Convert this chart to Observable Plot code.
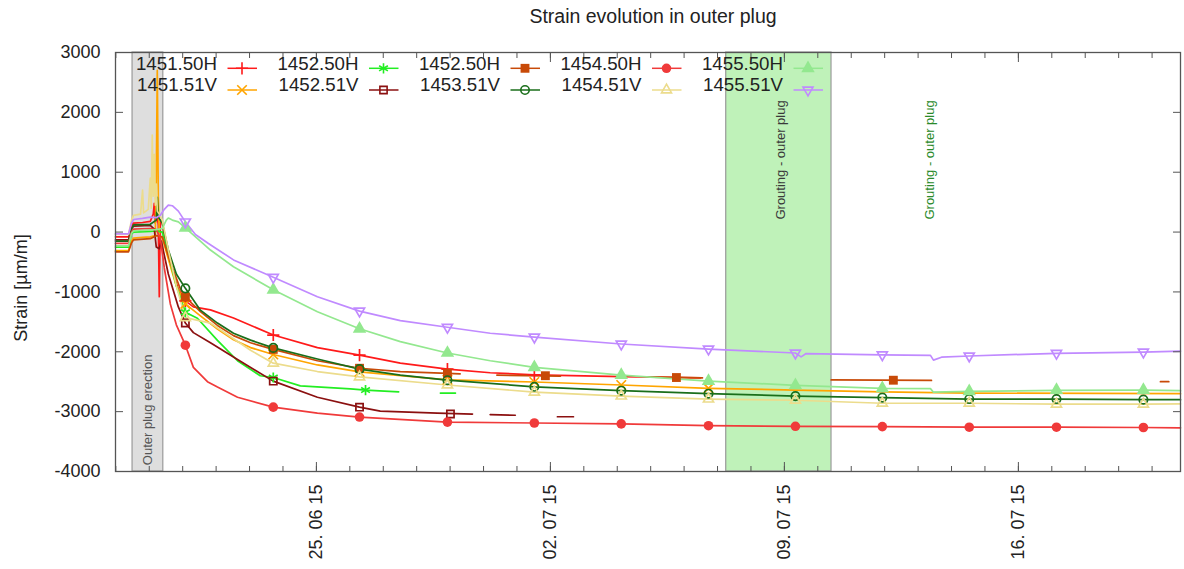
<!DOCTYPE html>
<html><head><meta charset="utf-8">
<script src="https://cdn.jsdelivr.net/npm/d3@7"></script>
<script src="https://cdn.jsdelivr.net/npm/@observablehq/plot@0.6"></script>
<style>
body{margin:0;background:#fff;font-family:"Liberation Sans",Arial,sans-serif;}
#wrap{position:relative;width:1184px;height:569px;overflow:hidden;background:#fff;}
#chart{position:absolute;left:0;top:0;}
#overlay{position:absolute;left:0;top:0;pointer-events:none;z-index:2;}
</style></head><body>
<div id="wrap"><div id="chart"></div><svg id="overlay" width="1184" height="569"></svg></div>
<script>
// ---- data (x = days after 25.06.2015, y = strain µm/m) ----
const line1451_50H = [[-6.01,-80],[-5.62,-80],[-5.53,100],[-5.47,150],[-5.2,160],[-4.97,180],[-4.88,300],[-4.85,480],[-4.82,150],[-4.76,250],[-4.73,120],[-4.70,-1080],[-4.67,200],[-4.61,150],[-4.49,-250],[-4.31,-650],[-4.13,-950],[-3.92,-1150],[-3.68,-1250],[-3.17,-1300],[-2.48,-1435],[-1.29,-1720],[0.03,-1930],[1.29,-2055],[2.51,-2190],[3.92,-2290],[5.2,-2350],[6.52,-2385],[9.12,-2415],[11.49,-2435]];
const marks1451_50H = [[-3.92,-1150],[-1.29,-1720],[1.29,-2055],[3.92,-2290],[6.52,-2385]];

const line1451_51V = [[-6.01,-310],[-5.62,-310],[-5.53,-150],[-5.47,-100],[-5.2,-90],[-4.97,-80],[-4.82,-60],[-4.79,900],[-4.76,2700],[-4.73,600],[-4.70,-60],[-4.61,-100],[-4.43,-450],[-4.19,-900],[-3.92,-1200],[-3.47,-1400],[-2.96,-1620],[-2.48,-1800],[-1.97,-1930],[-1.29,-2045],[0.03,-2220],[1.29,-2335],[3.92,-2470],[6.52,-2505],[9.12,-2555],[11.73,-2610],[14.33,-2640],[16.93,-2670],[19.53,-2690],[25.85,-2700]];
const marks1451_51V = [[-3.92,-1200],[-1.29,-2045],[1.29,-2335],[3.92,-2470],[6.52,-2505],[9.12,-2555],[11.73,-2610]];

const line1452_50H = [[-6.01,-250],[-5.62,-250],[-5.53,-30],[-5.47,0],[-4.97,10],[-4.79,20],[-4.61,0],[-4.43,-350],[-4.19,-900],[-3.92,-1340],[-3.56,-1440],[-2.96,-1810],[-2.36,-2150],[-1.68,-2400],[-1.29,-2430],[-0.48,-2570],[1.02,-2620],[1.47,-2640],[2.46,-2670],[2.47,null],[3.71,-2690],[4.16,-2690]];
const marks1452_50H = [[-3.92,-1340],[-1.29,-2430],[1.47,-2640]];

const line1452_51V = [[-6.01,-130],[-5.62,-130],[-5.53,60],[-5.47,100],[-4.97,110],[-4.85,50],[-4.79,-250],[-4.70,-280],[-4.64,-150],[-4.43,-700],[-4.13,-1250],[-3.92,-1520],[-3.68,-1680],[-3.17,-1850],[-2.36,-2130],[-1.29,-2490],[0.03,-2760],[1.29,-2925],[1.91,-2990],[3.62,-3025],[4.67,-3040],[4.68,null],[5.2,-3050],[5.95,-3060],[5.96,null],[7.21,-3085],[7.69,-3085]];
const marks1452_51V = [[-3.92,-1520],[-1.29,-2490],[1.29,-2925],[4.01,-3040]];

const line1452_50Hb = [[-6.01,-330],[-5.62,-330],[-5.53,-180],[-5.47,-130],[-4.97,-110],[-4.79,-60],[-4.61,-80],[-4.37,-500],[-4.07,-950],[-3.92,-1085],[-3.47,-1330],[-2.96,-1560],[-2.48,-1730],[-1.97,-1850],[-1.29,-1960],[0.03,-2150],[1.29,-2275],[2.51,-2330],[3.92,-2360],[4.3,-2370],[4.31,null],[5.4,-2390],[7.3,-2405],[7.31,null],[9.9,-2420],[11.55,-2435],[11.56,null],[15.4,-2470],[18.4,-2478],[18.41,null],[25.25,-2500],[25.5,-2500]];
const marks1452_50Hb = [[-3.92,-1085],[-1.29,-1960],[1.29,-2275],[3.92,-2360],[6.85,-2400],[10.77,-2430],[17.26,-2475]];

const line1453_51V = [[-6.01,-150],[-5.62,-150],[-5.53,50],[-5.47,120],[-4.97,130],[-4.79,200],[-4.76,580],[-4.73,250],[-4.61,150],[-4.43,-300],[-4.19,-700],[-3.92,-940],[-3.47,-1305],[-2.96,-1520],[-2.48,-1690],[-1.97,-1805],[-1.29,-1935],[0.03,-2120],[1.29,-2290],[2.51,-2390],[3.92,-2475],[6.52,-2585],[9.12,-2650],[11.73,-2700],[14.33,-2740],[16.93,-2765],[19.53,-2790],[22.14,-2790],[24.74,-2800],[25.85,-2800]];
const marks1453_51V = [[-3.92,-940],[-1.29,-1935],[1.29,-2290],[3.92,-2475],[6.52,-2585],[9.12,-2650],[11.73,-2700],[14.33,-2740],[16.93,-2765],[19.53,-2790],[22.14,-2790],[24.74,-2800]];

const line1454_50H = [[-6.01,-190],[-5.62,-190],[-5.53,0],[-5.47,50],[-4.97,60],[-4.79,40],[-4.67,-100],[-4.55,-600],[-4.37,-1200],[-4.19,-1550],[-3.92,-1890],[-3.68,-2260],[-3.26,-2500],[-2.96,-2590],[-2.36,-2760],[-1.29,-2925],[0.03,-3025],[1.29,-3090],[3.92,-3175],[6.52,-3190],[9.12,-3205],[11.73,-3235],[14.33,-3245],[16.93,-3250],[19.53,-3260],[22.14,-3260],[24.74,-3265],[25.85,-3270]];
const marks1454_50H = [[-3.92,-1890],[-1.29,-2925],[1.29,-3090],[3.92,-3175],[6.52,-3190],[9.12,-3205],[11.73,-3235],[14.33,-3245],[16.93,-3250],[19.53,-3260],[22.14,-3260],[24.74,-3265]];

const line1454_51V = [[-6.01,-40],[-5.62,-40],[-5.53,200],[-5.47,280],[-5.26,300],[-5.2,700],[-5.17,320],[-5.03,380],[-4.97,900],[-4.94,400],[-4.91,1620],[-4.88,600],[-4.85,1300],[-4.82,450],[-4.79,800],[-4.76,350],[-4.70,300],[-4.61,200],[-4.43,-300],[-4.19,-900],[-3.92,-1430],[-3.17,-1520],[-1.97,-1975],[-1.29,-2190],[0.03,-2330],[1.29,-2420],[3.92,-2555],[6.52,-2675],[9.12,-2740],[11.73,-2790],[14.33,-2810],[16.93,-2860],[19.53,-2860],[22.14,-2875],[24.74,-2875],[25.85,-2870]];
const marks1454_51V = [[-3.92,-1430],[-1.29,-2190],[1.29,-2420],[3.92,-2555],[6.52,-2675],[9.12,-2740],[11.73,-2790],[14.33,-2810],[16.93,-2860],[19.53,-2860],[22.14,-2875],[24.74,-2875]];

const line1455_50H = [[-6.01,-230],[-5.62,-230],[-5.53,-20],[-5.47,20],[-5.2,30],[-4.79,40],[-4.61,60],[-4.49,200],[-4.43,235],[-4.31,200],[-4.13,170],[-3.92,70],[-3.17,-300],[-2.48,-580],[-1.29,-965],[0.03,-1330],[1.29,-1615],[2.51,-1830],[3.92,-2020],[5.2,-2150],[6.52,-2260],[9.12,-2390],[11.73,-2490],[14.33,-2560],[16.93,-2610],[18.37,-2615],[18.46,-2675],[19.53,-2660],[22.14,-2645],[24.74,-2640],[25.85,-2650]];
const marks1455_50H = [[-3.92,70],[-1.29,-965],[1.29,-1615],[3.92,-2020],[6.52,-2260],[9.12,-2390],[11.73,-2490],[14.33,-2560],[16.93,-2610],[19.53,-2660],[22.14,-2640],[24.74,-2640]];

const line1455_51V = [[-6.01,-30],[-5.62,-30],[-5.53,150],[-5.47,210],[-5.2,230],[-4.97,250],[-4.79,240],[-4.67,280],[-4.55,380],[-4.43,450],[-4.31,440],[-4.13,350],[-3.92,170],[-3.62,-40],[-3.23,-190],[-2.48,-465],[-1.29,-755],[0.03,-1080],[1.29,-1320],[2.51,-1480],[3.92,-1590],[5.2,-1690],[6.52,-1755],[9.12,-1870],[11.73,-1955],[14.33,-2020],[14.5,-2085],[14.65,-2030],[16.93,-2050],[18.37,-2060],[18.46,-2140],[18.7,-2090],[19.53,-2070],[22.14,-2025],[24.74,-2005],[25.85,-1990]];
const marks1455_51V = [[-3.92,170],[-1.29,-755],[1.29,-1320],[3.92,-1590],[6.52,-1755],[9.12,-1870],[11.73,-1955],[14.33,-2020],[16.93,-2050],[19.53,-2070],[22.14,-2025],[24.74,-2005]];

const labels = ["1451.50H","1451.51V","1452.50H","1452.51V","1452.50H","1453.51V","1454.50H","1454.51V","1455.50H","1455.51V"];
const yTicks = [-4000,-3000,-2000,-1000,0,1000,2000,3000];
const xTickDays = [0,7,14,21];
const xTickLabels = ["25. 06 15","02. 07 15","09. 07 15","16. 07 15"];
const bands = [{from:-5.50, to:-4.58, kind:"erection"}, {from:12.26, to:15.41, kind:"grouting"}];
const notes = [
  {d:-5.05, v:-2970, text:"Outer plug erection", kind:"erection"},
  {d:13.89, v:1205, text:"Grouting - outer plug", kind:"grouting"},
  {d:18.35, v:1205, text:"Grouting - outer plug", kind:"green"}
];

// ---- styling / assembly ----
const start = Date.UTC(2015, 5, 25);
const toDate = d => new Date(start + d * 864e5);
const lines = [line1451_50H,line1451_51V,line1452_50H,line1452_51V,line1452_50Hb,line1453_51V,line1454_50H,line1454_51V,line1455_50H,line1455_51V];
const marksets = [marks1451_50H,marks1451_51V,marks1452_50H,marks1452_51V,marks1452_50Hb,marks1453_51V,marks1454_50H,marks1454_51V,marks1455_50H,marks1455_51V];
const styles = [
  {color:"#ff1a1a", symbol:"plus", fill:false, r:4, rotate:0},
  {color:"#ffa500", symbol:"times", fill:false, r:4.4, rotate:0},
  {color:"#22ee22", symbol:"asterisk", fill:false, r:4.8, rotate:0},
  {color:"#8b1010", symbol:"square2", fill:false, r:4.6, rotate:0},
  {color:"#c84a08", symbol:"square", fill:true, r:5, rotate:0},
  {color:"#1a6e1a", symbol:"circle", fill:false, r:4.2, rotate:0},
  {color:"#f03a3a", symbol:"circle", fill:true, r:4.8, rotate:0},
  {color:"#ecdc8c", symbol:"triangle2", fill:false, r:4.8, rotate:0},
  {color:"#93e88f", symbol:"triangle", fill:true, r:5, rotate:0},
  {color:"#c08aff", symbol:"triangle2", fill:false, r:4.8, rotate:180}
];

const marks = [];
marks.push(Plot.rect(bands, {x1: b => toDate(b.from), x2: b => toDate(b.to),
  fill: b => b.kind === "erection" ? "#dedede" : "#bff2b9", stroke: "#9a9a9a", strokeWidth: 1.2}));
marks.push(Plot.text(notes, {x: n => toDate(n.d), y: "v", text: "text", rotate: -90, fontSize: 13,
  fill: n => n.kind === "erection" ? "#555" : n.kind === "grouting" ? "#3a3a3a" : "#2a8a2a"}));
lines.forEach((ln, i) => {
  const st = styles[i];
  marks.push(Plot.line(ln.map(([d, v]) => ({date: toDate(d), v})), {x: "date", y: "v", stroke: st.color, strokeWidth: 1.7}));
});
marksets.forEach((ms, i) => {
  const st = styles[i];
  marks.push(Plot.dot(ms.map(([d, v]) => ({date: toDate(d), v})), {x: "date", y: "v", symbol: st.symbol, r: st.r,
    rotate: st.rotate, fill: st.fill ? st.color : "none", stroke: st.fill ? "none" : st.color, strokeWidth: st.fill ? 0 : 1.7}));
});
const dailyTicks = d3.range(-6, 26).map(toDate);
const weekTicks = xTickDays.map(toDate);
const fmtX = d => xTickLabels[weekTicks.findIndex(t => +t === +d)] ?? "";
marks.push(Plot.frame({stroke: "#555", strokeWidth: 1.3}));
marks.push(Plot.axisX({anchor: "bottom", ticks: dailyTicks, tickSize: -5, tickFormat: () => "", label: null, stroke: "#555"}));
marks.push(Plot.axisX({anchor: "bottom", ticks: weekTicks, tickSize: -9, tickFormat: () => "", label: null, stroke: "#555"}));
marks.push(Plot.axisX({anchor: "top", ticks: dailyTicks, tickSize: -5, tickFormat: () => "", label: null, stroke: "#555"}));
marks.push(Plot.axisX({anchor: "top", ticks: weekTicks, tickSize: -9, tickFormat: () => "", label: null, stroke: "#555"}));
marks.push(Plot.axisX({anchor: "bottom", ticks: weekTicks, tickSize: 0, tickPadding: 13, tickRotate: -90, tickFormat: fmtX, fontSize: 18, label: null}));
marks.push(Plot.axisY({anchor: "left", ticks: yTicks, tickSize: -8, tickFormat: () => "", label: null, stroke: "#555"}));
marks.push(Plot.axisY({anchor: "right", ticks: yTicks, tickSize: -8, tickFormat: () => "", label: null, stroke: "#555"}));
marks.push(Plot.axisY({anchor: "left", ticks: yTicks, tickSize: 0, tickPadding: 15, fontSize: 18, label: null, tickFormat: d => String(d)}));

const chart = Plot.plot({
  width: 1184, height: 569,
  marginLeft: 115, marginRight: 4, marginTop: 52, marginBottom: 98,
  x: {type: "utc", domain: [toDate(-6.01), toDate(25.85)]},
  y: {domain: [-4000, 3000]},
  style: {fontFamily: "'Liberation Sans', Arial, sans-serif", color: "#222", background: "transparent"},
  marks
});
document.getElementById("chart").appendChild(chart);

// ---- overlay: title, y label, legend ----
const ov = d3.select("#overlay").style("font-family", "'Liberation Sans', Arial, sans-serif");
ov.append("text").attr("x", 653).attr("y", 22.5).attr("text-anchor", "middle").attr("font-size", 19.5).attr("fill", "#222").text("Strain evolution in outer plug");
ov.append("text").attr("transform", "translate(27,288) rotate(-90)").attr("text-anchor", "middle").attr("font-size", 18).attr("fill", "#222").text("Strain [µm/m]");
const symMap = {plus: d3.symbolPlus, times: d3.symbolTimes, asterisk: d3.symbolAsterisk, square: d3.symbolSquare,
  square2: d3.symbolSquare2, circle: d3.symbolCircle, triangle: d3.symbolTriangle, triangle2: d3.symbolTriangle2};
labels.forEach((lab, i) => {
  const col = Math.floor(i / 2), row = i % 2, st = styles[i];
  const tx = 217 + 141.5 * col, ty = 70.4 + 20.6 * row, ly = 68.3 + 21.7 * row;
  ov.append("text").attr("x", tx).attr("y", ty).attr("text-anchor", "end").attr("font-size", 18.7).attr("fill", "#222").text(lab);
  ov.append("line").attr("x1", tx + 10.5).attr("x2", tx + 40).attr("y1", ly).attr("y2", ly).attr("stroke", st.color).attr("stroke-width", 1.5);
  ov.append("path").attr("d", d3.symbol(symMap[st.symbol], Math.PI * st.r * st.r)())
    .attr("transform", `translate(${tx + 25},${ly}) rotate(${st.rotate})`)
    .attr("fill", st.fill ? st.color : "none").attr("stroke", st.fill ? "none" : st.color).attr("stroke-width", st.fill ? 0 : 1.6);
});
</script>
</body></html>
